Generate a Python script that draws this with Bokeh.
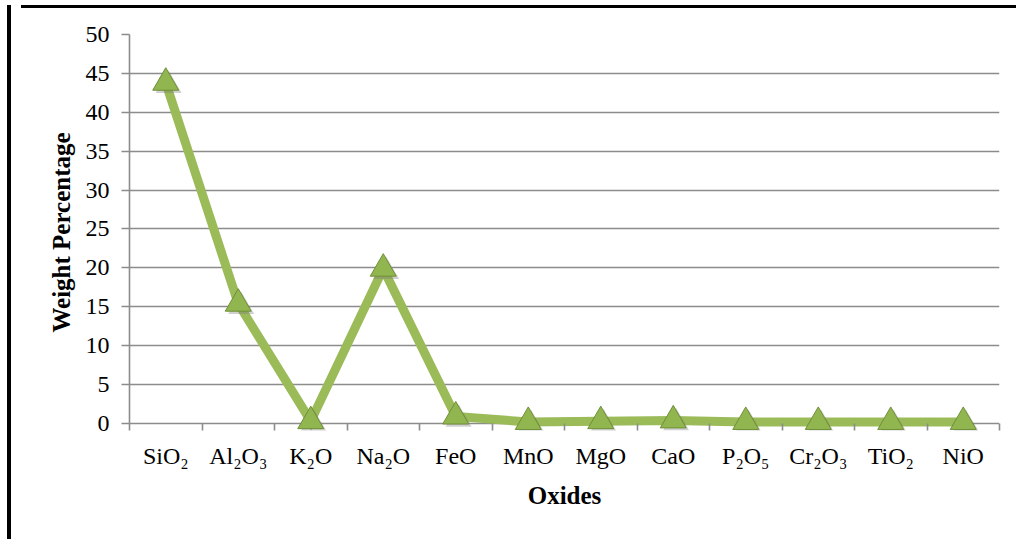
from bokeh.plotting import figure
from bokeh.layouts import column, row
from bokeh.models import FixedTicker, Range1d, Div
from bokeh.embed import file_html
from bokeh.resources import INLINE

oxides = ["SiO₂", "Al₂O₃", "K₂O", "Na₂O", "FeO", "MnO", "MgO", "CaO", "P₂O₅", "Cr₂O₃", "TiO₂", "NiO"]
weight = [43.8, 15.4, 0.3, 19.9, 0.9, 0.2, 0.3, 0.4, 0.2, 0.2, 0.2, 0.2]
y_ticks = [0, 5, 10, 15, 20, 25, 30, 35, 40, 45, 50]

xs = list(range(len(oxides)))
centers = xs
bounds = [i - 0.5 for i in range(len(oxides) + 1)]

W, H = 1000, 529
p = figure(width=W, height=H, output_backend="svg", toolbar_location=None,
           x_range=Range1d(-0.5, len(oxides) - 0.5), y_range=Range1d(-0.9, 50),
           min_border_left=113, min_border_right=17, min_border_top=21, min_border_bottom=112)
p.outline_line_color = None
p.background_fill_color = "white"

p.xgrid.grid_line_color = None
p.ygrid.ticker = FixedTicker(ticks=y_ticks)
p.ygrid.grid_line_color = "#8c8c8c"
p.ygrid.grid_line_width = 1.6

serif = "Liberation Serif"

xa = p.xaxis[0]
xa.ticker = FixedTicker(ticks=centers, minor_ticks=bounds)
xa.major_label_overrides = {i: n for i, n in enumerate(oxides)}
xa.major_tick_out = 0
xa.major_tick_in = 0
xa.minor_tick_out = 0
xa.minor_tick_in = 7
xa.minor_tick_line_color = "#8c8c8c"
xa.minor_tick_line_width = 1.6
xa.axis_line_color = None
xa.major_label_text_font = serif
xa.major_label_text_font_size = "24px"
xa.major_label_text_color = "black"
xa.major_label_standoff = 12
xa.axis_label = "Oxides"
xa.axis_label_text_font = serif
xa.axis_label_text_font_style = "bold"
xa.axis_label_text_font_size = "25px"
xa.axis_label_text_color = "black"
xa.axis_label_standoff = 10

ya = p.yaxis[0]
ya.bounds = (0, 50)
ya.ticker = FixedTicker(ticks=y_ticks)
ya.major_tick_out = 8
ya.major_tick_in = 0
ya.minor_tick_line_color = None
ya.major_tick_line_color = "#8c8c8c"
ya.major_tick_line_width = 1.6
ya.axis_line_color = "#8c8c8c"
ya.axis_line_width = 1.6
ya.major_label_text_font = serif
ya.major_label_text_font_size = "24px"
ya.major_label_text_color = "black"
ya.major_label_standoff = 12
ya.axis_label = "Weight Percentage"
ya.axis_label_text_font = serif
ya.axis_label_text_font_style = "bold"
ya.axis_label_text_font_size = "25px"
ya.axis_label_text_color = "black"
ya.axis_label_standoff = 8

p.line(xs, weight, line_color="#9BBB59", line_width=9, line_join="miter")
p.scatter([x + 0.04 for x in xs], [w - 0.35 for w in weight], marker="triangle", size=26,
          fill_color="#777777", fill_alpha=0.35, line_color=None)
p.scatter(xs, weight, marker="triangle", size=26, fill_color="#92B64F",
          line_color="#6E8E37", line_width=1)

top_border = Div(text="", width=W, height=3, styles={"background-color": "black"})
bottom_border = Div(text="", width=W, height=2, styles={"background-color": "#b8b8b8"})
left_border = Div(text="", width=4, height=H + 5, styles={"background-color": "black"})

layout = row(left_border, column(top_border, p, bottom_border, spacing=0), spacing=0,
             styles={"margin-left": "2px", "margin-top": "0px"})

open("out.html", "w").write(file_html(layout, INLINE))
